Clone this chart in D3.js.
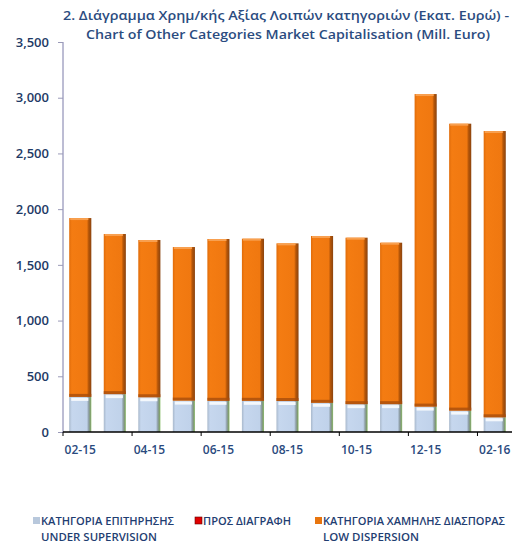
<!DOCTYPE html>
<html>
<head>
<meta charset="utf-8">
<script src="https://cdn.jsdelivr.net/npm/d3@7"></script>
<style>
body { margin:0; background:#fff; }
text { font-family:"Open Sans", "DejaVu Sans", sans-serif; }
</style>
</head>
<body>
<script>
// months on the x axis
var months = ["02-15","03-15","04-15","05-15","06-15","07-15","08-15","09-15","10-15","11-15","12-15","01-16","02-16"];
// under supervision (Mill. Euro)
var supervision = [315, 340, 312, 282, 280, 280, 278, 262, 250, 250, 228, 192, 132];
// to be deleted
var deletion = [0, 0, 0, 0, 0, 0, 0, 0, 0, 0, 0, 0, 0];
// low dispersion
var lowDispersion = [1605, 1437, 1411, 1378, 1452, 1455, 1415, 1497, 1494, 1449, 2805, 2575, 2569];
var yTicks = [0, 500, 1000, 1500, 2000, 2500, 3000, 3500];
var xLabels = ["02-15","04-15","06-15","08-15","10-15","12-15","02-16"];

var W = 512, H = 544;
var margin = {top:42, right:0, bottom:112, left:63};
var width = W - margin.left - margin.right;
var height = H - margin.top - margin.bottom;

var svg = d3.select("body").append("svg").attr("width", W).attr("height", H);

var defs = svg.append("defs");
var og = defs.append("linearGradient").attr("id","orangeG").attr("x1","0").attr("x2","1").attr("y1","0").attr("y2","0");
og.append("stop").attr("offset","0").attr("stop-color","#e06c0a");
og.append("stop").attr("offset","0.12").attr("stop-color","#f47c12");
og.append("stop").attr("offset","0.8").attr("stop-color","#f07810");
og.append("stop").attr("offset","0.88").attr("stop-color","#b45508");
og.append("stop").attr("offset","1").attr("stop-color","#8a4410");
var bg = defs.append("linearGradient").attr("id","blueG").attr("x1","0").attr("x2","1").attr("y1","0").attr("y2","0");
bg.append("stop").attr("offset","0").attr("stop-color","#a9b9cc");
bg.append("stop").attr("offset","0.12").attr("stop-color","#c6d7ee");
bg.append("stop").attr("offset","0.8").attr("stop-color","#c0d2ea");
bg.append("stop").attr("offset","0.88").attr("stop-color","#8e9ea6");
bg.append("stop").attr("offset","0.95").attr("stop-color","#7f9a6e");
bg.append("stop").attr("offset","1").attr("stop-color","#8fc070");

var g = svg.append("g").attr("transform","translate(" + margin.left + "," + margin.top + ")");

var x = d3.scaleBand().domain(months).range([0, width]).paddingInner(0.36).paddingOuter(0.18);
var y = d3.scaleLinear().domain([0, 3500]).range([height, 0]);

var data = months.map(function(m, i) {
    return {m:m, s:supervision[i], d:deletion[i], l:lowDispersion[i]};
});

// bars
var bars = g.selectAll(".bar").data(data).enter().append("g").attr("class","bar");
bars.append("rect")
    .attr("x", function(d){ return x(d.m); })
    .attr("width", x.bandwidth())
    .attr("y", function(d){ return y(d.s); })
    .attr("height", function(d){ return y(0) - y(d.s); })
    .attr("fill","url(#blueG)");
// white highlight on top of blue
bars.append("rect")
    .attr("x", function(d){ return x(d.m) + 2; })
    .attr("width", x.bandwidth() - 5)
    .attr("y", function(d){ return y(d.s) + 1; })
    .attr("height", 3)
    .attr("fill","#f4f8fc");
bars.append("rect")
    .attr("x", function(d){ return x(d.m); })
    .attr("width", x.bandwidth())
    .attr("y", function(d){ return y(d.s + d.d); })
    .attr("height", function(d){ return y(d.s) - y(d.s + d.d); })
    .attr("fill","#e00000");
bars.append("rect")
    .attr("x", function(d){ return x(d.m); })
    .attr("width", x.bandwidth())
    .attr("y", function(d){ return y(d.s + d.d + d.l); })
    .attr("height", function(d){ return y(d.s + d.d) - y(d.s + d.d + d.l); })
    .attr("fill","url(#orangeG)");
// darker bottom edge of orange
bars.append("rect")
    .attr("x", function(d){ return x(d.m); })
    .attr("width", x.bandwidth())
    .attr("y", function(d){ return y(d.s + d.d) - 3; })
    .attr("height", 3)
    .attr("fill","#a84e0c").attr("opacity",0.8);
// light top edge of orange
bars.append("rect")
    .attr("x", function(d){ return x(d.m) + 1; })
    .attr("width", x.bandwidth() - 4)
    .attr("y", function(d){ return y(d.s + d.d + d.l); })
    .attr("height", 2)
    .attr("fill","#f8a050");

// y axis
var yAxis = d3.axisLeft(y).tickValues(yTicks).tickSize(5).tickPadding(9)
    .tickFormat(d3.format(","));
var ya = g.append("g").call(yAxis);
ya.select(".domain").attr("stroke","#7a7aa8").attr("d","M0," + y(3500) + "V" + y(0));
ya.selectAll(".tick line").attr("stroke","#9a9ab8");
ya.selectAll("text").attr("fill","#1e3a66").attr("font-size","13px").attr("font-weight","600");

// x axis
var xAxis = d3.axisBottom(x).tickValues(xLabels).tickSize(0).tickPadding(13);
var xa = g.append("g").attr("transform","translate(0," + height + ")").call(xAxis);
xa.select(".domain").attr("stroke","#000").attr("stroke-width",1.3).attr("d","M0,0H" + width);
xa.selectAll("text").attr("fill","#2a4a7e").attr("font-size","12px").attr("font-weight","600");
var step = x.step();
xa.selectAll(".tick line").remove();
xa.selectAll(".bt").data(d3.range(0, months.length, 2)).enter().append("line")
    .attr("x1", function(i){ return i * step; })
    .attr("x2", function(i){ return i * step; })
    .attr("y1", 0).attr("y2", 4).attr("stroke","#000");

// title
svg.append("text").attr("x", 286).attr("y", 20).attr("text-anchor","middle")
    .attr("font-size","13px").attr("font-weight","600").attr("fill","#2b4c80")
    .attr("textLength", 446).attr("lengthAdjust","spacingAndGlyphs")
    .text("2. Διάγραμμα Χρημ/κής Αξίας Λοιπών κατηγοριών (Εκατ. Ευρώ) -");
svg.append("text").attr("x", 288).attr("y", 39).attr("text-anchor","middle")
    .attr("font-size","13px").attr("font-weight","600").attr("fill","#2b4c80")
    .attr("textLength", 404).attr("lengthAdjust","spacingAndGlyphs")
    .text("Chart of Other Categories Market Capitalisation (Mill. Euro)");

// legend
var legend = [
    {x:33, c:"#b8c8dc", l1:"ΚΑΤΗΓΟΡΙΑ ΕΠΙΤΗΡΗΣΗΣ", w1:133, l2:"UNDER SUPERVISION", w2:116},
    {x:195, c:"#e00000", l1:"ΠΡΟΣ ΔΙΑΓΡΑΦΗ", w1:88, l2:"", w2:0},
    {x:315, c:"#e8750e", l1:"ΚΑΤΗΓΟΡΙΑ ΧΑΜΗΛΗΣ ΔΙΑΣΠΟΡΑΣ", w1:182, l2:"LOW DISPERSION", w2:96}
];
var lg = svg.selectAll(".lg").data(legend).enter().append("g");
lg.append("rect").attr("x", function(d){ return d.x; }).attr("y", 517)
    .attr("width", 7).attr("height", 7).attr("fill", function(d){ return d.c; })
    .attr("stroke", function(d, i){ return i == 1 ? "#600" : "none"; }).attr("stroke-width",0.6);
lg.append("text").attr("x", function(d){ return d.x + 8; }).attr("y", 525)
    .attr("font-size","10.5px").attr("font-weight","600").attr("fill","#1f3e72")
    .attr("textLength", function(d){ return d.w1; }).attr("lengthAdjust","spacingAndGlyphs")
    .text(function(d){ return d.l1; });
lg.filter(function(d){ return d.l2; }).append("text").attr("x", function(d){ return d.x + 8; }).attr("y", 541)
    .attr("font-size","10.5px").attr("font-weight","600").attr("fill","#1f3e72")
    .attr("textLength", function(d){ return d.w2; }).attr("lengthAdjust","spacingAndGlyphs")
    .text(function(d){ return d.l2; });
</script>
</body>
</html>
